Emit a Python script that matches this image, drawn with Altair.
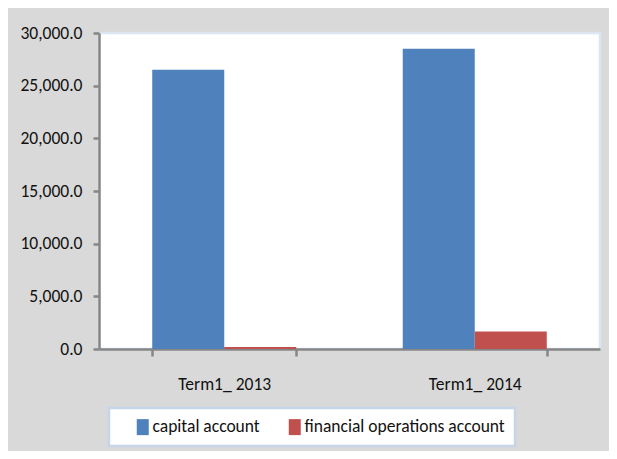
import altair as alt
import pandas as pd

# ---- data ----
periods = ["Term1_ 2013", "Term1_ 2014"]
series = ["capital account", "financial operations account"]
capital_values = [26500, 28500]
financial_values = [200, 1650]
y_ticks = [0, 5000, 10000, 15000, 20000, 25000, 30000]
colors = ["#4f81bd", "#c0504d"]

rows = []
for p, c, f in zip(periods, capital_values, financial_values):
    rows.append({"period": p, "series": series[0], "value": c})
    rows.append({"period": p, "series": series[1], "value": f})
df = pd.DataFrame(rows)

FONT = "Carlito, Liberation Sans, sans-serif"
FS = 17.5
AXIS_GREY = "#868686"

chart = (
    alt.Chart(df)
    .mark_bar()
    .encode(
        x=alt.X(
            "period:N",
            sort=periods,
            title=None,
            scale=alt.Scale(paddingInner=0.425, paddingOuter=0.2125),
            axis=alt.Axis(
                labelAngle=0,
                tickBand="extent",
                tickSize=7,
                tickWidth=2.5,
                tickColor=AXIS_GREY,
                domainColor=AXIS_GREY,
                domainWidth=2.5,
                labelPadding=19,
                labelFontSize=FS,
                labelFont=FONT,
                labelColor="#111111",
                grid=False,
            ),
        ),
        xOffset=alt.XOffset(
            "series:N", sort=series, scale=alt.Scale(paddingInner=0, paddingOuter=0)
        ),
        y=alt.Y(
            "value:Q",
            title=None,
            scale=alt.Scale(domain=[0, 30000], nice=False),
            axis=alt.Axis(
                values=y_ticks,
                format=",.1f",
                tickSize=6,
                tickWidth=2.5,
                tickColor=AXIS_GREY,
                domainColor=AXIS_GREY,
                domainWidth=2.5,
                labelPadding=11,
                labelFontSize=FS,
                labelFont=FONT,
                labelColor="#111111",
                grid=False,
            ),
        ),
        color=alt.Color(
            "series:N",
            sort=series,
            scale=alt.Scale(domain=series, range=colors),
            legend=alt.Legend(
                orient="none",
                legendX=10,
                legendY=375,
                direction="horizontal",
                title="\u00a0",
                titleOrient="left",
                titleFontSize=1,
                titlePadding=15,
                symbolType="M-0.75,-1H0.75V1H-0.75Z",
                symbolSize=256,
                symbolStrokeWidth=0,
                symbolOpacity=1,
                labelFontSize=FS,
                labelFont=FONT,
                labelColor="#111111",
                labelOffset=1,
                labelLimit=400,
                columnPadding=26,
                padding=10,
                fillColor="#ffffff",
                strokeColor="#c6d5ea",
                labelExpr="datum.label == 'financial operations account' ? datum.label + '\u2002\u2002' : datum.label",
            ),
        ),
    )
    .properties(
        width=501,
        height=316,
        autosize="none",
        padding={"left": 91, "top": 25, "right": 9, "bottom": 102},
        background="#d9d9d9",
    )
    .configure_view(fill="#ffffff", stroke="#dce6f2", strokeWidth=2.5)
    .configure_legend(strokeWidth=2.5, cornerRadius=0)
)

chart.save("out.html", embed_options={"renderer": "svg", "actions": False})
